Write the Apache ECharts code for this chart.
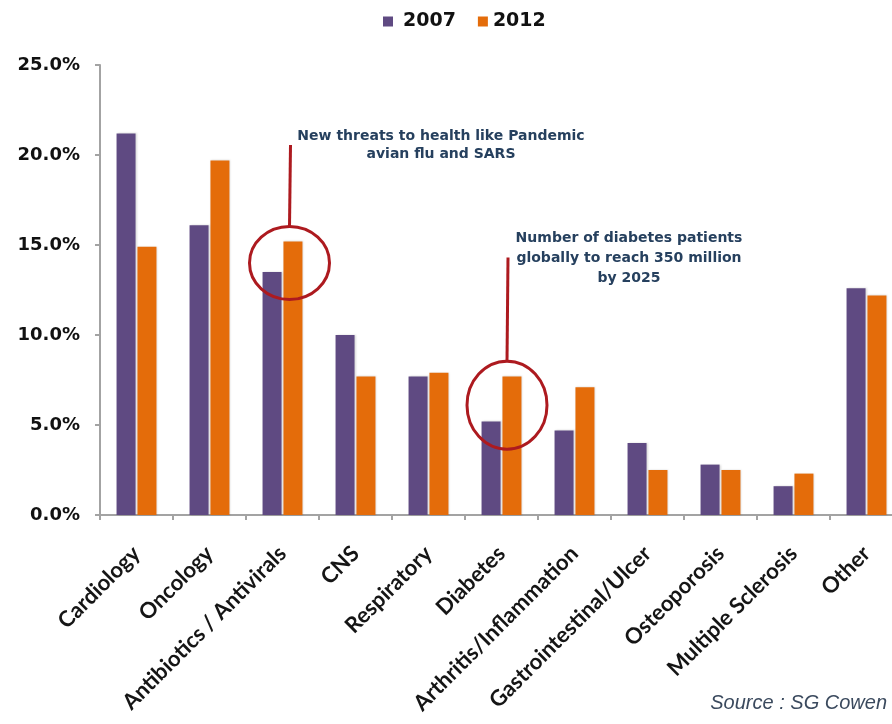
<!DOCTYPE html>
<html>
<head>
<meta charset="utf-8">
<script src="https://cdn.jsdelivr.net/npm/echarts@6/dist/echarts.min.js"></script>
<style>
  html, body { margin: 0; padding: 0; background: #ffffff; }
  #chart { width: 892px; height: 724px; }
</style>
</head>
<body>
<div id="chart"></div>
<script>
// Therapeutic area share of the market, 2007 vs 2012 (%)
const categories = [
  'Cardiology', 'Oncology', 'Antibiotics / Antivirals', 'CNS', 'Respiratory',
  'Diabetes', 'Arthritis/Inflammation', 'Gastrointestinal/Ulcer', 'Osteoporosis',
  'Multiple Sclerosis', 'Other'
];
const share2007 = [21.2, 16.1, 13.5, 10.0, 7.7, 5.2, 4.7, 4.0, 2.8, 1.6, 12.6];
const share2012 = [14.9, 19.7, 15.2, 7.7, 7.9, 7.7, 7.1, 2.5, 2.5, 2.3, 12.2];
const seriesNames = ['2007', '2012'];
const yTicks = [0, 5, 10, 15, 20, 25];

// Callouts: circled category, circle centre value, top of the pointer line
const callouts = [
  { category: 'Antibiotics / Antivirals', value: 14.0, lineTop: 20.55,
    text: 'New threats to health like Pandemic\navian flu and SARS' },
  { category: 'Diabetes', value: 6.1, lineTop: 14.3,
    text: 'Number of diabetes patients\nglobally to reach 350 million\nby 2025' }
];

const purple = '#5f4a82';
const orange = '#e46c0a';
const calloutRed = '#ad1a1f';
const noteBlue = '#26405e';

const chart = echarts.init(document.getElementById('chart'));

const option = {
  backgroundColor: '#ffffff',
  animation: false,
  legend: {
    data: [
      { name: seriesNames[0], textStyle: { padding: [0, 0, 0, 5] } },
      { name: seriesNames[1], textStyle: { padding: [0, 0, 0, 0] } }
    ],
    top: 12,
    left: 383,
    padding: 0,
    icon: 'rect',
    itemWidth: 10,
    itemHeight: 10,
    itemGap: 22,
    textStyle: {
      fontFamily: 'DejaVu Sans',
      fontWeight: 'bold',
      fontSize: 19,
      color: '#111111'
    }
  },
  grid: { left: 100, top: 65, right: -11, bottom: 209, containLabel: false, outerBoundsMode: 'none' },
  xAxis: {
    type: 'category',
    data: categories,
    axisLine: { lineStyle: { color: '#a3a3a3', width: 2 } },
    axisTick: { show: true, length: 5, lineStyle: { color: '#a3a3a3', width: 2 } },
    axisLabel: {
      interval: 0,
      rotate: 45,
      margin: 35,
      fontFamily: 'Lato',
      fontWeight: 'bold',
      fontSize: 22,
      color: '#151515'
    }
  },
  yAxis: {
    type: 'value',
    min: yTicks[0],
    max: yTicks[yTicks.length - 1],
    interval: yTicks[1] - yTicks[0],
    splitLine: { show: false },
    axisLine: { show: true, lineStyle: { color: '#a3a3a3', width: 2 } },
    axisTick: { show: true, length: 5, lineStyle: { color: '#a3a3a3', width: 2 } },
    axisLabel: {
      margin: 20,
      fontFamily: 'DejaVu Sans',
      fontWeight: 'bold',
      fontSize: 18,
      color: '#111111',
      formatter: v => v.toFixed(1) + '%'
    }
  },
  series: [
    {
      name: seriesNames[0], type: 'bar', data: share2007,
      barWidth: 19, barGap: '10%',
      itemStyle: { color: purple, shadowColor: 'rgba(0,0,0,0.15)', shadowBlur: 2, shadowOffsetX: 1 }
    },
    {
      name: seriesNames[1], type: 'bar', data: share2012,
      barWidth: 19, barGap: '10%',
      itemStyle: { color: orange, shadowColor: 'rgba(0,0,0,0.15)', shadowBlur: 2, shadowOffsetX: 1 }
    }
  ],
  graphic: [
    {
      type: 'text', right: 5, top: 693,
      style: {
        text: 'Source : SG Cowen',
        fontFamily: 'Liberation Sans', fontStyle: 'italic', fontSize: 20,
        fill: '#3b4a5e'
      }
    }
  ]
};
chart.setOption(option);

// Circles, pointer lines and notes, placed from the axis scales
const shapes = [];
const circleSize = [[40, 36.5], [40, 44]];
const circleShift = [7, 5.5];
const noteAt = [[441, 127], [629, 228]];
const noteLine = [18, 20];
callouts.forEach((c, i) => {
  const centre = chart.convertToPixel({ seriesIndex: 0 }, [c.category, c.value]);
  const top = chart.convertToPixel({ seriesIndex: 0 }, [c.category, c.lineTop]);
  const cx = centre[0] + circleShift[i];
  const cy = centre[1];
  const [rx, ry] = circleSize[i];
  shapes.push({
    type: 'line', z: 10,
    shape: { x1: cx + 1, y1: top[1], x2: cx, y2: cy - ry },
    style: { stroke: calloutRed, lineWidth: 3 }
  });
  shapes.push({
    type: 'ellipse', z: 10,
    shape: { cx: cx, cy: cy, rx: rx, ry: ry },
    style: { fill: 'none', stroke: calloutRed, lineWidth: 3 }
  });
  shapes.push({
    type: 'text', z: 10, x: noteAt[i][0], y: noteAt[i][1],
    style: {
      text: c.text, align: 'center', verticalAlign: 'top',
      fontFamily: 'DejaVu Sans', fontWeight: 'bold', fontSize: 14,
      lineHeight: noteLine[i], fill: noteBlue
    }
  });
});
chart.setOption({ graphic: option.graphic.concat(shapes) });
</script>
</body>
</html>
